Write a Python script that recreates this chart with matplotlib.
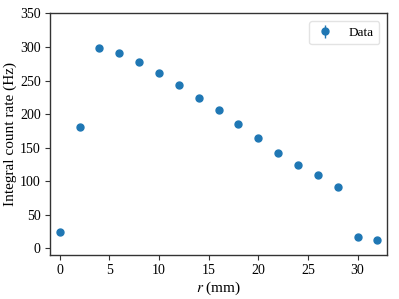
import matplotlib
matplotlib.use("Agg")
import matplotlib.pyplot as plt
import numpy as np

plt.rcParams['font.family'] = ['Liberation Serif', 'DejaVu Serif']
plt.rcParams['mathtext.fontset'] = 'stix'

# radial position (mm) and integral count rate (Hz)
r_mm = [0, 2, 4, 6, 8, 10, 12, 14, 16, 18, 20, 22, 24, 26, 28, 30, 32]
rate = [24, 181, 298, 291, 278, 261, 244, 224, 206, 186, 165, 142, 124, 110, 92, 17, 13]
rate_err = [1.5, 2.5, 3.0, 3.0, 3.0, 3.0, 2.8, 2.8, 2.6, 2.5, 2.3, 2.2, 2.0, 1.9, 1.8, 1.2, 1.1]

fig = plt.figure(figsize=(3.99, 2.99), dpi=100)
ax = fig.add_axes([0.1246, 0.147, 0.8461, 0.808])

ax.errorbar(r_mm, rate, yerr=rate_err, fmt='o', color='#1f77b4',
            markersize=5, elinewidth=1, label='Data')

ax.set_xlim(-1, 33)
ax.set_ylim(-10, 350)
ax.set_xticks([0, 5, 10, 15, 20, 25, 30])
ax.set_yticks(np.arange(0, 351, 50))
ax.tick_params(labelsize=10, length=3.5, width=0.8, pad=3, colors='#333333', labelcolor='black')
for s in ax.spines.values():
    s.set_color('#333333')
    s.set_linewidth(1.0)

ax.set_xlabel('$r$ (mm)', fontsize=11, labelpad=2)
ax.set_ylabel('Integral count rate (Hz)', fontsize=11, labelpad=2)
ax.yaxis.set_label_coords(-0.098, 0.5)
leg = ax.legend(loc='upper right', fontsize=9.5, frameon=True,
                handlelength=1.6, handletextpad=1.0, borderaxespad=0.6)
leg.get_frame().set_edgecolor('#dddddd')

fig.savefig('out.png', dpi=100)
